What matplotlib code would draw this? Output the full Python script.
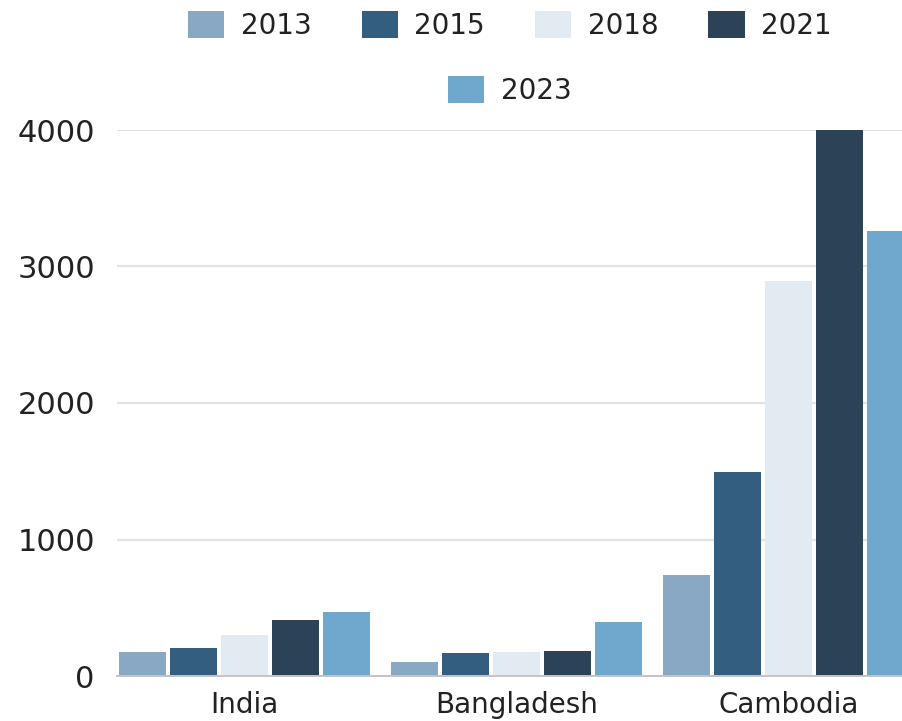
import matplotlib
matplotlib.use("Agg")
import matplotlib.pyplot as plt
from matplotlib.patches import Patch
import numpy as np

countries = ["India", "Bangladesh", "Cambodia"]
years = ["2013", "2015", "2018", "2021", "2023"]
values_2013 = [174, 105, 740]
values_2015 = [203, 166, 1495]
values_2018 = [301, 174, 2896]
values_2021 = [411, 186, 4000]
values_2023 = [470, 398, 3260]
series = [values_2013, values_2015, values_2018, values_2021, values_2023]
colors = ["#88a8c3", "#345e80", "#e2eaf2", "#2c4256", "#6fa8cc"]
y_ticks = [0, 1000, 2000, 3000, 4000]

plt.rcParams["font.family"] = ["DejaVu Sans"]
text_color = "#222222"

fig = plt.figure(figsize=(9.02, 7.21), dpi=100)
ax = fig.add_axes([117 / 902, 45 / 721, 799 / 902, 546 / 721])

x = np.arange(len(countries))
step = 0.1875
width = 0.1728
for i, (vals, col) in enumerate(zip(series, colors)):
    ax.bar(x + (i - 2) * step, vals, width=width, color=col, zorder=3,
           linewidth=0)

ax.set_xlim(-0.469, 2.469)
ax.set_ylim(0, 4000)
ax.set_yticks(y_ticks)
ax.set_yticklabels([str(t) for t in y_ticks])
ax.set_xticks(x)
ax.set_xticklabels(countries)

ax.grid(axis="y", color="#e3e3e3", linewidth=1.6, zorder=0)
ax.grid(axis="x", visible=False)
for s in ["top", "right", "left"]:
    ax.spines[s].set_visible(False)
ax.spines["bottom"].set_color("#c4c4c4")
ax.spines["bottom"].set_linewidth(1.4)
ax.spines["bottom"].set_zorder(4)

ax.tick_params(axis="y", length=0, pad=16, labelsize=22, labelcolor=text_color)
ax.tick_params(axis="x", length=0, pad=11, labelsize=20, labelcolor=text_color)

handles = [Patch(facecolor=c, edgecolor="none", label=y) for c, y in zip(colors, years)]
legend_kw = dict(frameon=False, fontsize=20, handlelength=1.3, handleheight=1.15,
                 handletextpad=0.6, columnspacing=1.8, borderpad=0,
                 borderaxespad=0, labelcolor=text_color, loc="center")
leg1 = fig.legend(handles=handles[:4], ncol=4, bbox_to_anchor=(0.5654, 0.965),
                  bbox_transform=fig.transFigure, **legend_kw)
leg2 = fig.legend(handles=handles[4:], ncol=1, bbox_to_anchor=(0.5654, 0.875),
                  bbox_transform=fig.transFigure, **legend_kw)

fig.savefig("out.png", dpi=100, facecolor="white")
